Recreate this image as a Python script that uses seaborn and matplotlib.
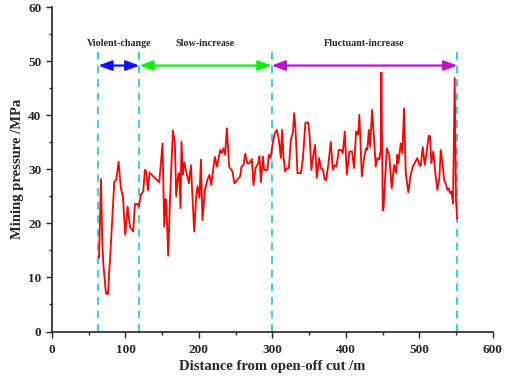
import seaborn as sns
import matplotlib.pyplot as plt
import pandas as pd
import numpy as np

# Mining pressure readings along the face
distance = [64, 66.7, 68.4, 70.2, 73.4, 76.2, 80.2, 84.8, 87.5, 90.6, 93.8, 96.5, 99.7,
            102.9, 106.1, 110.6, 112.9, 116, 118.3, 121, 124.2, 126.5, 128.3, 130.6, 132.8,
            146, 150.5, 152.8, 154.6, 155.5, 158.2, 161, 164.6, 167.3, 169.1, 171.8, 173.2,
            175, 176.3, 178.2, 180, 183.7, 186.4, 189.1, 193.6, 196.3, 198.1, 200.8, 202.7,
            204.9, 208.2, 211.7, 214.4, 216.7, 221.8, 224.5, 229, 231.3, 233.5, 235.7, 238.1,
            241.2, 245.7, 248.5, 252.5, 256.2, 258, 260.7, 263, 266.1, 268.8, 272.1, 274.3,
            277, 280.7, 282.5, 284.4, 287.1, 288.8, 293.3, 295.2, 297.6, 300.1, 303.4, 306.1,
            308.8, 311.6, 313.3, 315.1, 317.4, 319.7, 322.4, 325.2, 327.9, 329.7, 331.5, 334.2,
            338.8, 341.5, 345, 348.7, 350.5, 353.2, 355.9, 358.2, 360.5, 363.7, 366, 368.8,
            371.4, 373.2, 375.9, 379.6, 382.3, 385, 387.3, 390.5, 393.2, 395.9, 398.6, 401.4,
            404.9, 408.5, 411.3, 414, 416.7, 418.5, 421.8, 424.9, 427.6, 429.4, 431.3, 433.1,
            435.8, 438.5, 440.8, 443.1, 445.7, 447.6, 448.4, 450.3, 451.2, 455.8, 459, 462.6,
            465.7, 468.4, 470.2, 471.6, 474.8, 477, 479.3, 481.6, 485.2, 488.4, 491.2, 497.4,
            500.2, 501.9, 504.8, 507.5, 510.2, 512.9, 514.7, 516.5, 519.2, 521.9, 524.6, 527.4,
            529.3, 532, 533.8, 536.5, 538.3, 540.1, 541.9, 543.8, 546, 548.3, 550, 551.8]
pressure = [13.6, 28.2, 16.4, 12, 7.1, 6.9, 16.3, 27.7, 28.1, 31.4, 26.5, 25, 17.9,
            23.1, 19.4, 18.5, 23.6, 23.6, 23.1, 25.3, 25.9, 29.9, 29.6, 26.1, 29.4,
            27.6, 34.8, 19.4, 24.5, 24.3, 14, 25.6, 37.2, 34.8, 25, 29, 29.3,
            22.8, 35.1, 29, 31.3, 29, 27.4, 30.8, 18.5, 25, 26.9, 24.7, 31.8,
            20.6, 26.2, 28.1, 29, 27.1, 32.3, 30.5, 33.6, 33, 33.9, 32.7, 37.6,
            30.5, 29.6, 27.4, 28.1, 28.7, 30.5, 30.8, 32.9, 31.1, 31.1, 31.9, 27.1,
            30.2, 31.1, 32.4, 27.6, 32.4, 29.9, 29.9, 32.7, 32.1, 34.5, 36.7, 37.3,
            35.5, 32.1, 37.3, 32.4, 29.6, 30.2, 30.2, 35.5, 36.7, 40.4, 37.6, 29.3,
            29.3, 31.8, 38.6, 38.7, 36.7, 29.9, 32.7, 34.5, 28.4, 32.1, 30.2, 30,
            28.1, 28, 30.5, 35.1, 29.9, 30.8, 30.5, 33.6, 33.6, 33, 37, 29,
            33.3, 33.3, 30.2, 37, 36.4, 40.1, 28.7, 32.1, 33.9, 33.6, 37.3, 34.2,
            41, 35.5, 30.5, 32.1, 31.8, 33.6, 47.9, 22.5, 22.4, 33.9, 32.7, 26.5,
            30.8, 29.3, 32.7, 31.1, 34.8, 33, 41.3, 29.3, 25.7, 29, 30.5, 32.1,
            30.8, 30.6, 34.1, 30.8, 33.3, 36.2, 36.1, 31.1, 33.3, 29.3, 26.2, 28.4,
            33.6, 30.8, 28.1, 27.2, 26.2, 26.5, 25.6, 25.9, 23.7, 46.9, 24.3, 20.8]

# Stage boundaries and labels
boundaries = [63, 119, 299, 552]
stage_names = ["Violent-change", "Slow-increase", "Fluctuant-increase"]
stage_colors = ["#1010ff", "#10f010", "#c010d0"]

df = pd.DataFrame({"distance": distance, "pressure": pressure})

sns.set_style("ticks")
plt.rcParams['font.family'] = ['Liberation Serif', 'DejaVu Serif']
plt.rcParams['font.weight'] = 'bold'

fig = plt.figure(figsize=(5.05, 3.78), dpi=100)
ax = fig.add_axes([0.103, 0.123, 0.8726, 0.858])

sns.lineplot(data=df, x="distance", y="pressure", color="red", linewidth=1.3, ax=ax)

for b in boundaries:
    ax.plot([b, b], [0, 52], color="#3cc8f0", linestyle=(0, (4, 3)), linewidth=1.4, zorder=1)

for i, name in enumerate(stage_names):
    x0, x1 = boundaries[i], boundaries[i + 1]
    ax.annotate("", xy=(x1, 49.2), xytext=(x0, 49.2),
                arrowprops=dict(arrowstyle="<|-|>,head_length=0.8,head_width=0.3",
                                color=stage_colors[i], lw=1.6, shrinkA=0, shrinkB=0))
    ax.text((x0 + x1) / 2, 53.3, name, ha="center", va="center", fontsize=7.2, fontweight="bold")

ax.set_xlim(0, 600)
ax.set_ylim(0, 60)
ax.set_xticks(range(0, 601, 100))
ax.set_yticks(range(0, 61, 10))
ax.set_xticks(range(50, 600, 100), minor=True)
ax.set_yticks(range(5, 60, 10), minor=True)
ax.tick_params(axis="both", which="major", direction="out", length=4, width=1, labelsize=9.5)
ax.tick_params(axis="x", which="major", pad=5)
ax.tick_params(axis="both", which="minor", direction="out", length=2.5, width=1)
for lab in ax.get_xticklabels() + ax.get_yticklabels():
    lab.set_fontweight("bold")
ax.set_xlabel("Distance from open-off cut /m", fontsize=10.5, fontweight="bold", labelpad=3)
ax.set_ylabel("Mining pressure /MPa", fontsize=10.5, fontweight="bold", labelpad=3)
sns.despine(ax=ax)
for s in ["left", "bottom"]:
    ax.spines[s].set_linewidth(1.2)
    ax.spines[s].set_color("#222222")

fig.savefig("out.png", dpi=100)
